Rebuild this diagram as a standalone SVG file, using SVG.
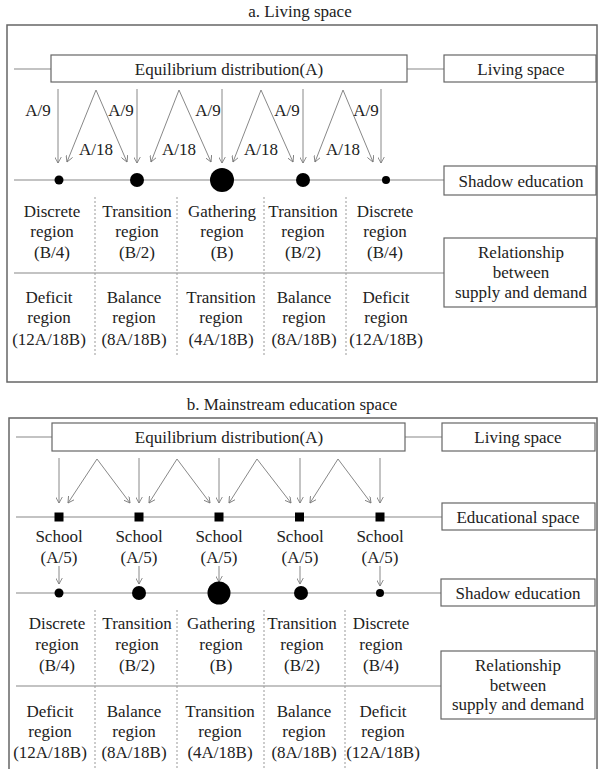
<svg xmlns="http://www.w3.org/2000/svg" width="598" height="769" viewBox="0 0 598 769">
<defs>
<marker id="ah" viewBox="0 0 10 10" refX="9" refY="5" markerWidth="7" markerHeight="7" orient="auto" markerUnits="userSpaceOnUse">
<path d="M0,0 L9,5 L0,10" fill="none" stroke="#777" stroke-width="1.2"/>
</marker>
<style>
text{font-family:"Liberation Serif","Times New Roman",serif;font-size:17px;fill:#222;text-anchor:middle}
.frame{fill:none;stroke:#666;stroke-width:1.5}
.box{fill:#fff;stroke:#666;stroke-width:1.2}
.ln{stroke:#888;stroke-width:1.2;fill:none}
.arr{stroke:#888;stroke-width:1;fill:none;marker-end:url(#ah)}
.div{stroke:#999;stroke-width:1;stroke-dasharray:2,2;fill:none}
</style>
</defs>
<rect width="598" height="769" fill="#fff"/>

<!-- ================= Panel a ================= -->
<g id="panel-a">
<text x="300" y="17">a. Living space</text>
<rect class="frame" x="7" y="25" width="590" height="357"/>
</g>

<g id="a-connectors">
<line class="ln" x1="14" y1="69" x2="51" y2="69"/>
<line class="ln" x1="407" y1="69" x2="444" y2="69"/>
<line class="ln" x1="14" y1="180" x2="444" y2="180"/>
<line class="ln" x1="14" y1="273" x2="444" y2="273"/>
<line class="div" x1="95" y1="197" x2="95" y2="357"/>
<line class="div" x1="177" y1="197" x2="177" y2="357"/>
<line class="div" x1="264" y1="197" x2="264" y2="357"/>
<line class="div" x1="346" y1="197" x2="346" y2="357"/>
<line class="arr" x1="58" y1="89" x2="58" y2="163"/>
<line class="arr" x1="137" y1="89" x2="137" y2="163"/>
<line class="arr" x1="222" y1="89" x2="222" y2="163"/>
<line class="arr" x1="303" y1="89" x2="303" y2="163"/>
<line class="arr" x1="381" y1="89" x2="381" y2="163"/>
<line class="arr" x1="96" y1="90" x2="67" y2="162"/>
<line class="arr" x1="96" y1="90" x2="127" y2="162"/>
<line class="arr" x1="179" y1="90" x2="151" y2="162"/>
<line class="arr" x1="179" y1="90" x2="211" y2="162"/>
<line class="arr" x1="261" y1="90" x2="233" y2="162"/>
<line class="arr" x1="261" y1="90" x2="293" y2="162"/>
<line class="arr" x1="343" y1="90" x2="315" y2="162"/>
<line class="arr" x1="343" y1="90" x2="373" y2="162"/>
<text x="38" y="116">A/9</text>
<text x="121" y="116">A/9</text>
<text x="208" y="116">A/9</text>
<text x="287" y="116">A/9</text>
<text x="366" y="116">A/9</text>
<text x="96" y="155">A/18</text>
<text x="179" y="155">A/18</text>
<text x="261" y="155">A/18</text>
<text x="343" y="155">A/18</text>
</g>

<g id="a-equilibrium">
<rect class="box" x="51" y="55" width="356" height="27"/>
<text x="229" y="75">Equilibrium distribution(A)</text>
</g>
<g id="a-living-space">
<rect class="box" x="444" y="55" width="152" height="27"/>
<text x="521" y="75">Living space</text>
</g>
<g id="a-shadow-education">
<rect class="box" x="444" y="166" width="152" height="29"/>
<text x="521" y="187">Shadow education</text>
</g>
<g id="a-relationship">
<rect class="box" x="444" y="238" width="152" height="69"/>
<text x="521" y="258">Relationship</text>
<text x="521" y="278">between</text>
<text x="521" y="298">supply and demand</text>
</g>
<g id="a-dots">
<circle cx="59" cy="180" r="4.5" fill="#000"/>
<circle cx="137" cy="180" r="7" fill="#000"/>
<circle cx="222" cy="180" r="12" fill="#000"/>
<circle cx="303" cy="180" r="7" fill="#000"/>
<circle cx="386" cy="180" r="4" fill="#000"/>
</g>
<g id="a-regions">
<text x="52" y="217">Discrete</text><text x="52" y="237">region</text><text x="52" y="258">(B/4)</text>
<text x="137" y="217">Transition</text><text x="137" y="237">region</text><text x="137" y="258">(B/2)</text>
<text x="222" y="217">Gathering</text><text x="222" y="237">region</text><text x="222" y="258">(B)</text>
<text x="303" y="217">Transition</text><text x="303" y="237">region</text><text x="303" y="258">(B/2)</text>
<text x="385" y="217">Discrete</text><text x="385" y="237">region</text><text x="385" y="258">(B/4)</text>
<text x="49" y="303">Deficit</text><text x="49" y="323">region</text><text x="49" y="345">(12A/18B)</text>
<text x="134" y="303">Balance</text><text x="134" y="323">region</text><text x="134" y="345">(8A/18B)</text>
<text x="221" y="303">Transition</text><text x="221" y="323">region</text><text x="221" y="345">(4A/18B)</text>
<text x="304" y="303">Balance</text><text x="304" y="323">region</text><text x="304" y="345">(8A/18B)</text>
<text x="386" y="303">Deficit</text><text x="386" y="323">region</text><text x="386" y="345">(12A/18B)</text>
</g>

<!-- ================= Panel b ================= -->
<g id="panel-b">
<text x="292" y="410">b. Mainstream education space</text>
<rect class="frame" x="9" y="418" width="588" height="370"/>
</g>

<g id="b-connectors">
<line class="ln" x1="16" y1="437" x2="52" y2="437"/>
<line class="ln" x1="405" y1="437" x2="442" y2="437"/>
<line class="ln" x1="16" y1="517" x2="442" y2="517"/>
<line class="ln" x1="16" y1="593" x2="441" y2="593"/>
<line class="ln" x1="16" y1="686" x2="441" y2="686"/>
<line class="div" x1="95" y1="610" x2="95" y2="769"/>
<line class="div" x1="177" y1="610" x2="177" y2="769"/>
<line class="div" x1="264" y1="610" x2="264" y2="769"/>
<line class="div" x1="345" y1="610" x2="345" y2="769"/>
<line class="arr" x1="59" y1="458" x2="59" y2="503"/>
<line class="arr" x1="139" y1="458" x2="139" y2="503"/>
<line class="arr" x1="219" y1="458" x2="219" y2="503"/>
<line class="arr" x1="300" y1="458" x2="300" y2="503"/>
<line class="arr" x1="380" y1="458" x2="380" y2="503"/>
<line class="arr" x1="97" y1="459" x2="68" y2="503"/>
<line class="arr" x1="97" y1="459" x2="130" y2="503"/>
<line class="arr" x1="177" y1="459" x2="149" y2="503"/>
<line class="arr" x1="177" y1="459" x2="210" y2="503"/>
<line class="arr" x1="257" y1="459" x2="229" y2="503"/>
<line class="arr" x1="257" y1="459" x2="291" y2="503"/>
<line class="arr" x1="338" y1="459" x2="310" y2="503"/>
<line class="arr" x1="338" y1="459" x2="371" y2="503"/>
<line class="arr" x1="59" y1="566" x2="59" y2="584"/>
<line class="arr" x1="139" y1="566" x2="139" y2="584"/>
<line class="arr" x1="219" y1="566" x2="219" y2="582"/>
<line class="arr" x1="300" y1="566" x2="300" y2="584"/>
<line class="arr" x1="380" y1="566" x2="380" y2="586"/>
</g>

<g id="b-equilibrium">
<rect class="box" x="52" y="423" width="353" height="28"/>
<text x="229" y="443">Equilibrium distribution(A)</text>
</g>
<g id="b-living-space">
<rect class="box" x="442" y="423" width="153" height="28"/>
<text x="518" y="443">Living space</text>
</g>
<g id="b-educational-space">
<rect class="box" x="442" y="503" width="153" height="27"/>
<text x="518" y="523">Educational space</text>
</g>
<g id="b-schools">
<rect x="54.5" y="512.5" width="9" height="9" fill="#000"/>
<rect x="134.5" y="512.5" width="9" height="9" fill="#000"/>
<rect x="214.5" y="512.5" width="9" height="9" fill="#000"/>
<rect x="295" y="512.5" width="9" height="9" fill="#000"/>
<rect x="375.5" y="512.5" width="9" height="9" fill="#000"/>
<text x="59" y="542">School</text><text x="59" y="563">(A/5)</text>
<text x="139" y="542">School</text><text x="139" y="563">(A/5)</text>
<text x="219" y="542">School</text><text x="219" y="563">(A/5)</text>
<text x="300" y="542">School</text><text x="300" y="563">(A/5)</text>
<text x="380" y="542">School</text><text x="380" y="563">(A/5)</text>
</g>
<g id="b-shadow-education">
<rect class="box" x="441" y="579" width="154" height="27"/>
<text x="518" y="599">Shadow education</text>
</g>
<g id="b-dots">
<circle cx="59" cy="593" r="4.5" fill="#000"/>
<circle cx="139" cy="593" r="7" fill="#000"/>
<circle cx="219" cy="593" r="11.5" fill="#000"/>
<circle cx="301" cy="593" r="7" fill="#000"/>
<circle cx="380" cy="593" r="4" fill="#000"/>
</g>
<g id="b-relationship">
<rect class="box" x="441" y="651" width="154" height="68"/>
<text x="518" y="671">Relationship</text>
<text x="518" y="691">between</text>
<text x="518" y="710">supply and demand</text>
</g>
<g id="b-regions">
<text x="57" y="629">Discrete</text><text x="57" y="650">region</text><text x="57" y="671">(B/4)</text>
<text x="137" y="629">Transition</text><text x="137" y="650">region</text><text x="137" y="671">(B/2)</text>
<text x="221" y="629">Gathering</text><text x="221" y="650">region</text><text x="221" y="671">(B)</text>
<text x="302" y="629">Transition</text><text x="302" y="650">region</text><text x="302" y="671">(B/2)</text>
<text x="381" y="629">Discrete</text><text x="381" y="650">region</text><text x="381" y="671">(B/4)</text>
<text x="50" y="717">Deficit</text><text x="50" y="737">region</text><text x="50" y="758">(12A/18B)</text>
<text x="134" y="717">Balance</text><text x="134" y="737">region</text><text x="134" y="758">(8A/18B)</text>
<text x="220" y="717">Transition</text><text x="220" y="737">region</text><text x="220" y="758">(4A/18B)</text>
<text x="304" y="717">Balance</text><text x="304" y="737">region</text><text x="304" y="758">(8A/18B)</text>
<text x="383" y="717">Deficit</text><text x="383" y="737">region</text><text x="383" y="758">(12A/18B)</text>
</g>
</svg>
